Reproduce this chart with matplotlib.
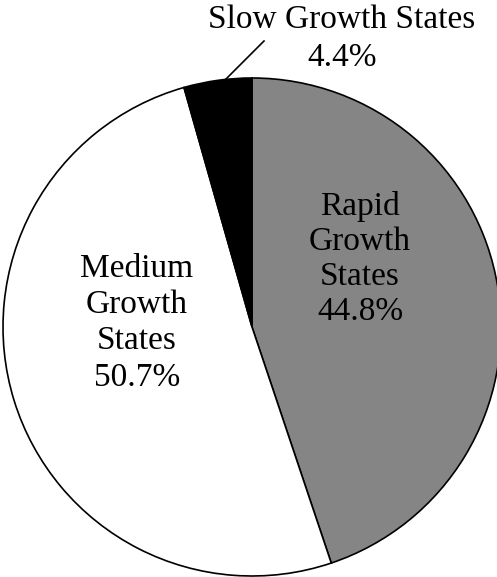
import matplotlib
matplotlib.use("Agg")
import matplotlib.pyplot as plt

# shares of growth groups, clockwise from 12 o'clock
groups = ["Rapid\nGrowth\nStates", "Medium\nGrowth\nStates", "Slow Growth States"]
shares = [44.8, 50.7, 4.4]
colors = ["#858585", "white", "black"]

W, H = 497, 577
fig = plt.figure(figsize=(W / 100, H / 100), dpi=100)
ax = fig.add_axes([0, 0, 1, 1])

plt.rcParams["font.family"] = ["Liberation Serif", "DejaVu Serif"]

cx, cy, r = 252, H - 327, 249
ax.pie(shares, colors=colors, startangle=90, counterclock=False,
       center=(cx, cy), radius=r,
       wedgeprops=dict(edgecolor="black", linewidth=1.2))

ax.set_xlim(0, W)
ax.set_ylim(0, H)
ax.set_aspect("equal")
ax.axis("off")

fs = 24
lab = [f"{g}\n{s:.1f}%" for g, s in zip(groups, shares)]
ax.text(360, H - 259, lab[0], ha="center", va="center", fontsize=fs,
        linespacing=1.2, family=["Liberation Serif"])
ax.text(137, H - 323, lab[1], ha="center", va="center", fontsize=fs,
        linespacing=1.25, family=["Liberation Serif"])
ax.text(342, H - 39, lab[2], ha="center", va="center", fontsize=fs,
        linespacing=1.3, family=["Liberation Serif"])
# leader line for the small slice
ax.plot([220, 264], [H - 85, H - 41], color="black", lw=1.2)

fig.savefig("out.png", dpi=100)
